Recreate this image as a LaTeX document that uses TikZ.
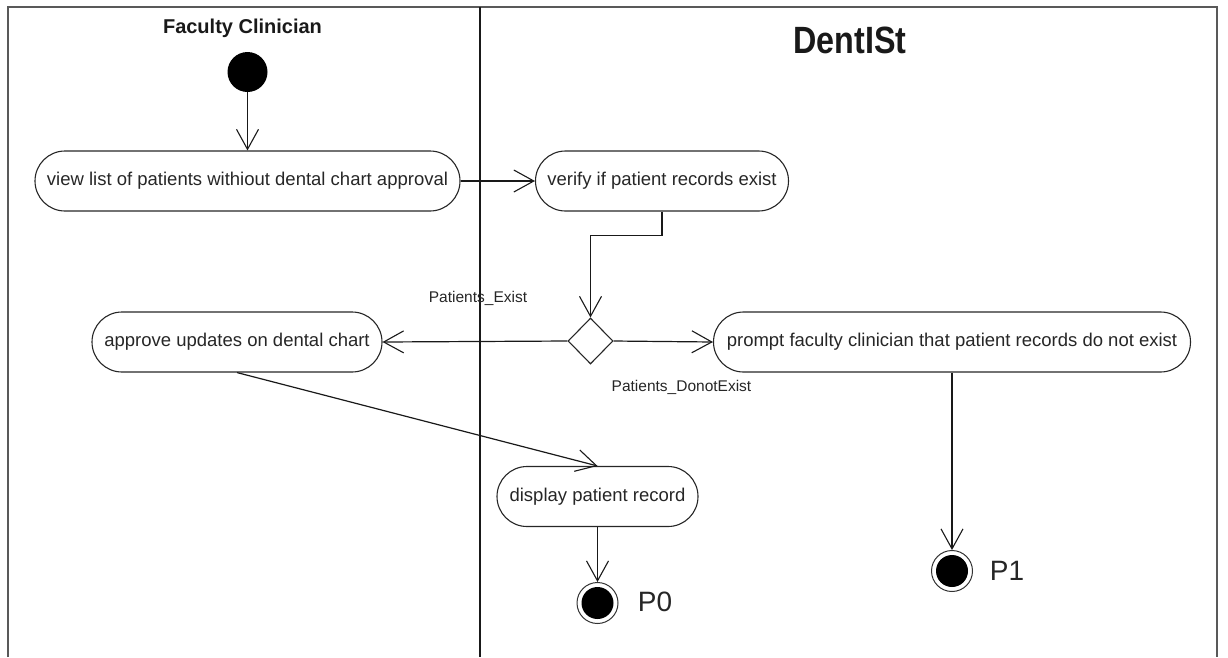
\documentclass[tikz,border=0pt]{standalone}
\usepackage{fontspec}
\setmainfont{Liberation Sans}
\usetikzlibrary{arrows.meta,shapes.geometric}

\tikzset{
  action/.style={draw=black!85, line width=1.1pt, rectangle, rounded corners=30pt,
    minimum height=60pt, inner sep=0pt, text=black!85,
    font=\fontsize{18.5}{22}\selectfont},
  decision/.style={draw=black!85, line width=1.1pt, diamond, aspect=1,
    minimum width=45pt, minimum height=46pt, inner sep=0pt},
  guard/.style={text=black!85, inner sep=0pt, font=\fontsize{15.5}{18}\selectfont},
  flow/.style={draw=black!90, line width=1.2pt,
    -{Straight Barb[length=20pt,width=22pt,line width=1.1pt]}},
  startnode/.style={circle, fill=black, minimum size=40pt, inner sep=0pt},
  endnode/.style={circle, draw=black!80, line width=1pt, minimum size=41pt, inner sep=0pt,
    path picture={\fill[black] (path picture bounding box.center) circle (16pt);}},
  lanetitle/.style={text=black!90, inner sep=0pt},
  endlabel/.style={text=black!85, inner sep=0pt, font=\fontsize{28}{32}\selectfont}
}

\begin{document}
\begin{tikzpicture}[x=1pt, y=-1pt]
  \useasboundingbox (0,0) rectangle (1228,657);

  % swimlane frame and divider
  \draw[black!65, line width=1.8pt] (8,657) -- (8,7) -- (1217,7) -- (1217,657);
  \draw[black!90, line width=2pt] (480,7) -- (480,657);

  % lane titles
  \node[lanetitle, font=\bfseries\fontsize{20}{24}\selectfont] (laneA) at (242.5,28) {Faculty Clinician};
  \node[lanetitle] (laneB) at (850,40) {\scalebox{0.85}[1]{\bfseries\fontsize{38}{44}\selectfont DentISt}};

  % initial state
  \node[startnode] (init) at (247.5,72) {};

  % actions
  \node[action, minimum width=425pt] (view) at (247.5,181) {view list of patients withiout dental chart approval};
  \node[action, minimum width=253pt] (verify) at (662,181) {verify if patient records exist};
  \node[action, minimum width=290pt] (approve) at (237,342) {approve updates on dental chart};
  \node[action, minimum width=477pt] (prompt) at (952,342) {prompt faculty clinician that patient records do not exist};
  \node[action, minimum width=201pt] (display) at (597.5,496.5) {display patient record};

  % decision
  \node[decision] (dec) at (590.5,341) {};

  % final states
  \node[endnode] (f0) at (597.5,603) {};
  \node[endnode] (f1) at (952,571) {};
  \node[endlabel] (p0) at (655,602) {P0};
  \node[endlabel] (p1) at (1007,571) {P1};

  % guards
  \node[guard] (gexist) at (478,298) {Patients\_Exist};
  \node[guard] (gnot) at (681.5,387) {Patients\_DonotExist};

  % flows
  \draw[flow] (init) -- (view);
  \draw[flow] (view.east) -- (view.east -| verify.west);
  \draw[flow] (verify.south) -- ++(0,24) -| (dec.north);
  \draw[flow] (dec.west) -- (approve.east);
  \draw[flow] (dec.east) -- (prompt.west);
  \draw[flow] (approve.south) -- (display.north);
  \draw[flow] (display.south) -- (f0.north);
  \draw[flow] (prompt.south) -- (f1.north);
\end{tikzpicture}
\end{document}
